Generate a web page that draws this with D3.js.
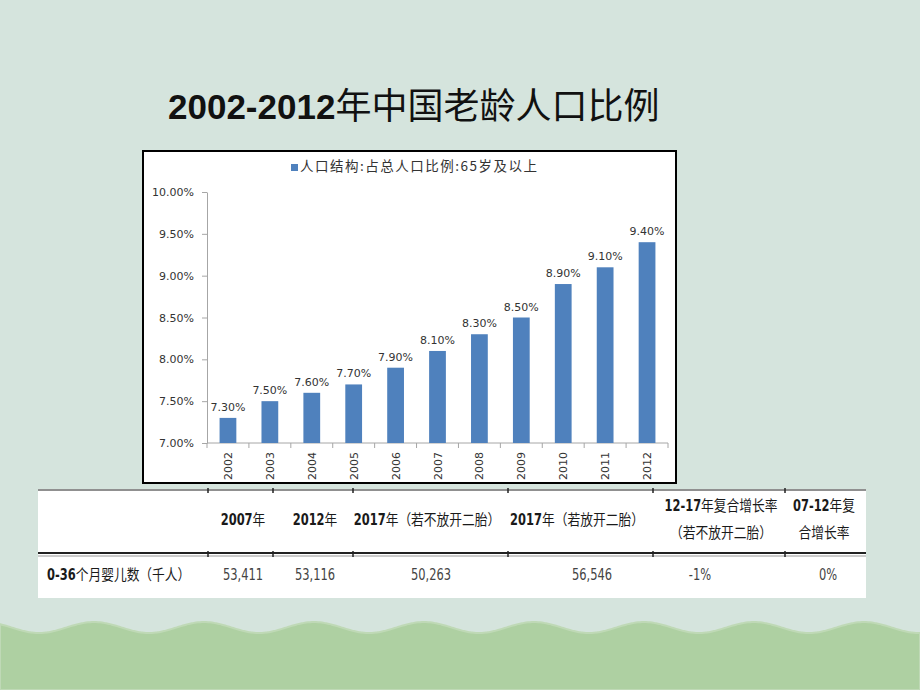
<!DOCTYPE html>
<html><head><meta charset="utf-8">
<script src="https://cdn.jsdelivr.net/npm/d3@7"></script>
<style>
html,body{margin:0;padding:0;background:#d5e4dd;}
svg{display:block;}
</style></head>
<body>
<script>
// ---- data ----
const years = ["2002","2003","2004","2005","2006","2007","2008","2009","2010","2011","2012"];
const shares = [7.3,7.5,7.6,7.7,7.9,8.1,8.3,8.5,8.9,9.1,9.4];
const yTicks = [7.0,7.5,8.0,8.5,9.0,9.5,10.0];
const legendLabel = "人口结构:占总人口比例:65岁及以上";
const titleNum = "2002-2012";
const titleText = "年中国老龄人口比例";
const tableHeaders = ["2007年","2012年","2017年（若不放开二胎）","2017年（若放开二胎）","12-17年复合增长率|（若不放开二胎）","07-12年复|合增长率"];
const rowLabel = "0-36个月婴儿数（千人）";
const rowValues = ["53,411","53,116","50,263","56,546","-1%","0%"];

// ---- layout ----
const W = 920, H = 690;
const svg = d3.select("body").append("svg").attr("width", W).attr("height", H);
svg.append("rect").attr("width", W).attr("height", H).attr("fill", "#d5e4dd");

// wave decoration
const wave = d3.range(0, W + 2, 2).map(x => [x, 627.5 - 5.5 * Math.cos(2 * Math.PI * (x - 94) / 110)]);
const area = d3.area().x(d => d[0]).y0(H).y1(d => d[1]).curve(d3.curveBasis);
svg.append("path").datum(wave).attr("d", area).attr("fill", "#aed0a2")
  .attr("stroke", "#bfd9b6").attr("stroke-width", 2);

// title
const title = svg.append("text").attr("x", 168).attr("y", 119).attr("fill", "#111");
title.append("tspan").text(titleNum)
  .attr("font-family", "'Liberation Sans', Arial, sans-serif").attr("font-weight", "bold").attr("font-size", 35);
title.append("tspan").text(titleText)
  .attr("font-family", "'Noto Sans CJK SC', sans-serif").attr("font-weight", 400).attr("font-size", 36);

// chart frame
svg.append("rect").attr("x", 143).attr("y", 151).attr("width", 533).attr("height", 332)
  .attr("fill", "#fff").attr("stroke", "#000").attr("stroke-width", 2);

const x = d3.scaleBand().domain(years).range([207, 668]).paddingInner(0.6).paddingOuter(0.3);
const y = d3.scaleLinear().domain([7, 10]).range([443, 192]);
const barColor = "#4f81bd";
const labelFont = "'DejaVu Sans', Verdana, sans-serif";
const labelColor = "#333";

// legend
svg.append("rect").attr("x", 291).attr("y", 164).attr("width", 7).attr("height", 7).attr("fill", barColor);
svg.append("text").attr("x", 300).attr("y", 171).text(legendLabel)
  .attr("font-family", "'Noto Sans CJK SC', sans-serif").attr("font-size", 13.5)
  .attr("letter-spacing", 1.5).attr("fill", "#333");

// y axis
const yAxis = svg.append("g").attr("transform", "translate(207,0)")
  .call(d3.axisLeft(y).tickValues(yTicks).tickFormat(d => d.toFixed(2) + "%").tickSize(5).tickPadding(8).tickSizeOuter(0));
yAxis.selectAll("path,line").attr("stroke", "#a6a6a6");
yAxis.selectAll("text").attr("font-family", labelFont).attr("font-size", 11).attr("fill", labelColor);

// x axis line + boundary ticks
const xg = svg.append("g");
xg.append("line").attr("x1", 207).attr("x2", 668).attr("y1", 443).attr("y2", 443).attr("stroke", "#a6a6a6");
const bounds = years.map(yr => x(yr) - x.step() * x.paddingInner() / 2).concat([668]);
xg.selectAll("line.tk").data(bounds).join("line").attr("class", "tk")
  .attr("x1", d => d).attr("x2", d => d).attr("y1", 443).attr("y2", 448).attr("stroke", "#a6a6a6");
xg.selectAll("text").data(years).join("text")
  .attr("transform", d => `translate(${x(d) + x.bandwidth() / 2 + 4},452) rotate(-90)`)
  .attr("text-anchor", "end").text(d => d)
  .attr("font-family", labelFont).attr("font-size", 11).attr("fill", labelColor);

// bars
svg.selectAll("rect.bar").data(shares).join("rect").attr("class", "bar")
  .attr("x", (d, i) => x(years[i])).attr("width", x.bandwidth())
  .attr("y", d => y(d)).attr("height", d => 443 - y(d)).attr("fill", barColor);
svg.selectAll("text.val").data(shares).join("text").attr("class", "val")
  .attr("x", (d, i) => x(years[i]) + x.bandwidth() / 2).attr("y", d => y(d) - 7)
  .attr("text-anchor", "middle").text(d => d.toFixed(2) + "%")
  .attr("font-family", labelFont).attr("font-size", 11).attr("fill", labelColor);

// table
const tfont = "'Liberation Sans Narrow', 'DejaVu Sans Condensed', 'Noto Sans CJK SC', sans-serif";
svg.append("rect").attr("x", 38).attr("y", 489).attr("width", 828).attr("height", 109).attr("fill", "#fff");
svg.append("line").attr("x1", 38).attr("x2", 866).attr("y1", 490).attr("y2", 490).attr("stroke", "#222").attr("stroke-width", 1.2);
svg.append("line").attr("x1", 38).attr("x2", 866).attr("y1", 553).attr("y2", 553).attr("stroke", "#222").attr("stroke-width", 2.2);
svg.append("line").attr("x1", 38).attr("x2", 866).attr("y1", 556).attr("y2", 556).attr("stroke", "#999").attr("stroke-width", 1);
const seps = [208, 273, 353, 508, 653, 785];
seps.forEach(s => {
  svg.append("line").attr("x1", s).attr("x2", s).attr("y1", 488).attr("y2", 493).attr("stroke", "#222").attr("stroke-width", 1.5);
  svg.append("line").attr("x1", s).attr("x2", s).attr("y1", 551).attr("y2", 557).attr("stroke", "#222").attr("stroke-width", 1.5);
});

function mixedText(g, str, bold, size, color) {
  const t = g.append("text").attr("text-anchor", "middle").attr("font-size", size).attr("fill", color);
  str.split(/([0-9\-~,%]+)/).filter(s => s.length).forEach(s => {
    const isNum = /^[0-9\-~,%]+$/.test(s);
    t.append("tspan").text(s)
      .attr("font-family", isNum ? tfont : "'Noto Sans CJK SC', sans-serif")
      .attr("font-weight", isNum && bold ? "bold" : "normal");
  });
  return t;
}
const headerX = [243, 315, 427, 577, 721, 824];
const valueX = [243, 315, 431, 592, 700, 828];
tableHeaders.forEach((h, i) => {
  const lines = h.split("|");
  lines.forEach((ln, j) => {
    const cy = lines.length === 1 ? 525 : (j === 0 ? 511 : 538);
    const g = svg.append("g").attr("transform", `translate(${headerX[i]},${cy}) scale(0.85,1)`);
    mixedText(g, ln, true, 15, "#1a1a1a");
  });
});
const lg = svg.append("g").attr("transform", `translate(47,580) scale(0.85,1)`);
mixedText(lg, rowLabel, true, 15, "#1a1a1a").attr("text-anchor", "start");
rowValues.forEach((v, i) => {
  const g = svg.append("g").attr("transform", `translate(${valueX[i]},580) scale(0.85,1)`);
  mixedText(g, v, false, 15, "#444");
});
</script>
</body></html>
